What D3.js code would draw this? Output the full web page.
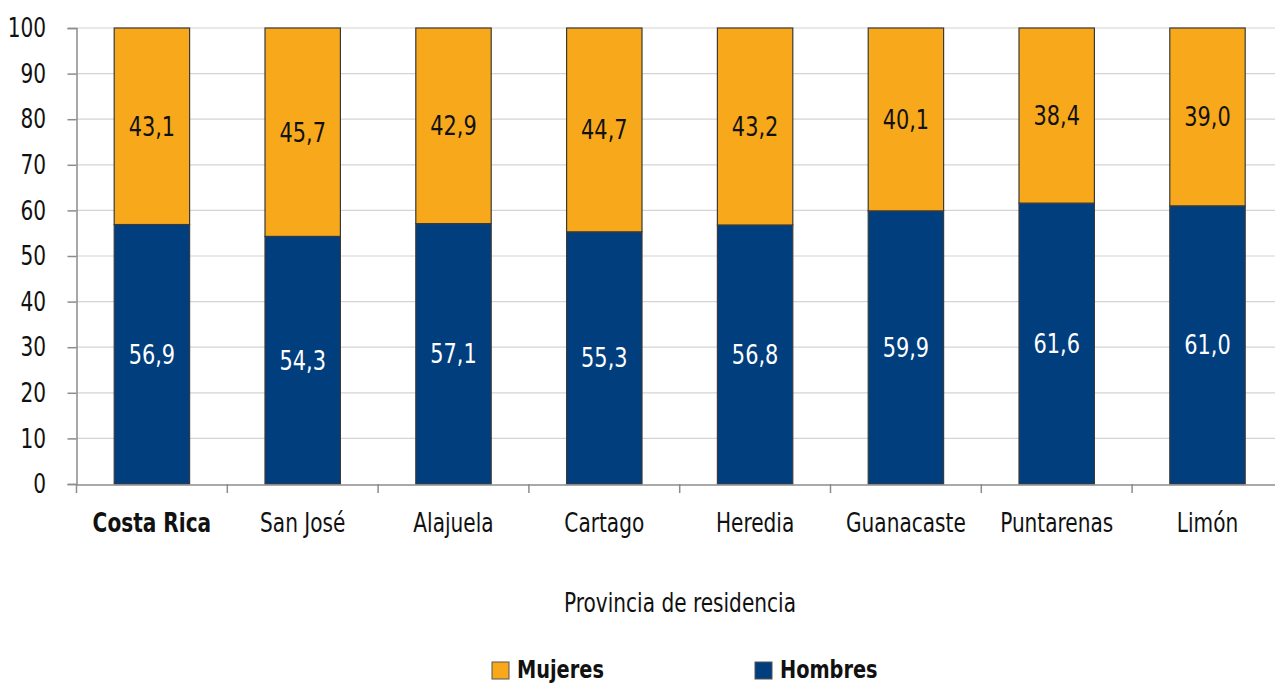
<!DOCTYPE html>
<html><head><meta charset="utf-8">
<script src="https://cdn.jsdelivr.net/npm/d3@7"></script>
<style>
body{margin:0;background:#fff;}
svg text{font-family:"DejaVu Sans Condensed","Liberation Sans Narrow",sans-serif;}
</style></head>
<body><svg id="c" width="1275" height="686"></svg>
<script>
const categories = ["Costa Rica","San José","Alajuela","Cartago","Heredia","Guanacaste","Puntarenas","Limón"];
const hombres = [56.9,54.3,57.1,55.3,56.8,59.9,61.6,61.0];
const mujeres = [43.1,45.7,42.9,44.7,43.2,40.1,38.4,39.0];
const yTicks = [0,10,20,30,40,50,60,70,80,90,100];
const seriesNames = ["Mujeres","Hombres"];
const colors = {Mujeres:"#F8A91B", Hombres:"#003E7E"};

const svg = d3.select("#c");
const SX = 0.86;
const pL = 76.5, pR = 76.5 + 8*150.8, pT = 28, pB = 484;
const x = d3.scaleBand().domain(categories).range([pL,pR]).paddingInner(0.5).paddingOuter(0.25);
const y = d3.scaleLinear().domain([0,100]).range([pB,pT]);

function ctext(parent, xx, yy, str, size, opts={}) {
  const t = parent.append("text")
    .attr("transform",`translate(${xx},${yy}) scale(${SX},1)`)
    .attr("font-size",size).attr("fill",opts.fill||"#111")
    .attr("text-anchor",opts.anchor||"middle")
    .attr("font-weight",opts.bold?"bold":"normal").text(str);
  if (opts.dy) t.attr("dy",opts.dy);
  return t;
}

// gridlines
svg.append("g").selectAll("line").data(yTicks.filter(d=>d>0)).join("line")
  .attr("x1",pL).attr("x2",1275).attr("y1",d=>y(d)).attr("y2",d=>y(d))
  .attr("stroke","#d4d4d4").attr("stroke-width",1.2);

// y axis
const yAxis = svg.append("g").attr("transform",`translate(${pL},0)`)
  .call(d3.axisLeft(y).tickValues(yTicks).tickSize(9).tickFormat(""));
yAxis.select(".domain").attr("stroke","#8c8c8c").attr("stroke-width",1.5);
yAxis.selectAll(".tick line").attr("stroke","#8c8c8c").attr("stroke-width",1.5);
const yl = svg.append("g");
yTicks.forEach(v=>ctext(yl, 46, y(v), d3.format("d")(v), 26, {anchor:"end", dy:"0.35em"}));

// bars
const g = svg.append("g");
const fmt = v => v.toFixed(1).replace(".",",");
categories.forEach((c,i)=>{
  const h = hombres[i], m = mujeres[i];
  g.append("rect").attr("x",x(c)).attr("width",x.bandwidth())
    .attr("y",y(h)).attr("height",y(0)-y(h))
    .attr("fill",colors.Hombres).attr("stroke","#3a3a3a").attr("stroke-width",1.2);
  g.append("rect").attr("x",x(c)).attr("width",x.bandwidth())
    .attr("y",y(h+m)).attr("height",y(h)-y(h+m))
    .attr("fill",colors.Mujeres).attr("stroke","#3a3a3a").attr("stroke-width",1.2);
  const cx = x(c)+x.bandwidth()/2;
  ctext(g, cx, y(h/2), fmt(h), 27, {fill:"#fff", dy:"0.35em"});
  ctext(g, cx, y(h+m/2), fmt(m), 27, {fill:"#111", dy:"0.35em"});
});

// x axis
svg.append("line").attr("x1",pL).attr("x2",1275).attr("y1",pB+1).attr("y2",pB+1)
  .attr("stroke","#8c8c8c").attr("stroke-width",1.5);
d3.range(categories.length+1).forEach(i=>{
  const xx = pL + i*x.step();
  svg.append("line").attr("x1",xx).attr("x2",xx).attr("y1",pB).attr("y2",pB+9)
    .attr("stroke","#8c8c8c").attr("stroke-width",1.5);
});
const xl = svg.append("g");
categories.forEach((c,i)=>ctext(xl, x(c)+x.bandwidth()/2, 532, c, 26, {bold:i===0}));

ctext(svg, 680, 612, "Provincia de residencia", 26);

// legend
const legX = [492,755];
seriesNames.forEach((s,i)=>{
  svg.append("rect").attr("x",legX[i]).attr("y",662).attr("width",17).attr("height",17)
    .attr("fill",colors[s]).attr("stroke","#555").attr("stroke-width",1);
  ctext(svg, legX[i]+25, 678, s, 25, {anchor:"start", bold:true});
});
</script></body></html>
